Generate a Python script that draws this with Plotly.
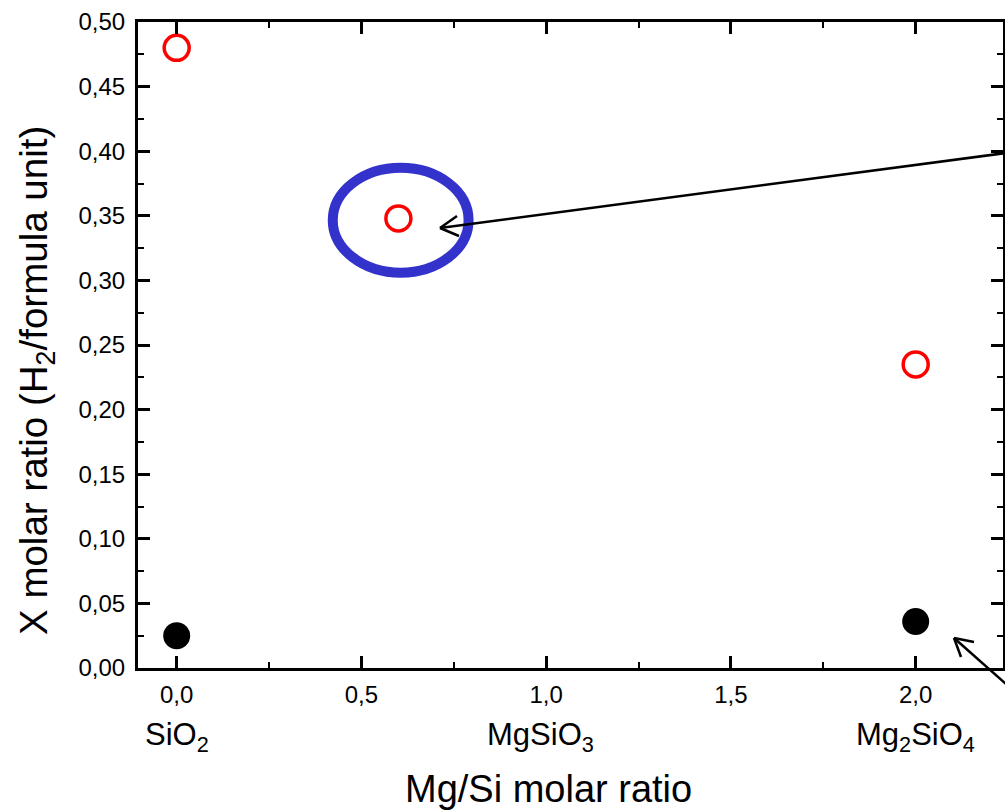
import plotly.graph_objects as go

# ---- data ----
h2_x = [0.0, 0.6, 2.0]            # Mg/Si molar ratio, red open circles
h2_y = [0.480, 0.348, 0.235]
low_x = [0.0, 2.0]                # black filled circles
low_y = [0.025, 0.036]
compound_x = [0.0, 1.0, 2.0]
compound_labels = ["SiO<sub>2</sub>", "MgSiO<sub>3</sub>", "Mg<sub>2</sub>SiO<sub>4</sub>"]
x_title = "Mg/Si molar ratio"
y_title = "X molar ratio (H<sub>2</sub>/formula unit)"

# ---- layout geometry ----
FW, FH = 1005, 811
L, T, R, B = 138, 22, 2, 143
W, H = FW - L - R, FH - T - B
X_RANGE = [-0.1047, 2.2363]
Y_RANGE = [0.0, 0.5]
FONT = "Liberation Sans, Arial, sans-serif"


def px_to_paper(px, py):
    return (px - L) / W, (FH - B - py) / H


fig = go.Figure()
fig.add_trace(go.Scatter(
    x=h2_x, y=h2_y, mode="markers",
    marker=dict(symbol="circle-open", size=25, color="#FF0000",
                line=dict(width=3.5, color="#FF0000")),
    showlegend=False, cliponaxis=False))
fig.add_trace(go.Scatter(
    x=low_x, y=low_y, mode="markers",
    marker=dict(symbol="circle", size=27, color="#000000", line=dict(width=0)),
    showlegend=False, cliponaxis=False))

axis_common = dict(
    showline=True, linecolor="black", linewidth=3, mirror="ticks",
    ticks="inside", ticklen=12, tickwidth=2.5, tickcolor="black",
    showgrid=False, zeroline=False, automargin=False,
    tickfont=dict(family=FONT, size=24, color="black"),
)
fig.update_xaxes(range=X_RANGE, dtick=0.5, tick0=0, tickformat=".1f",
                 ticklabelstandoff=3,
                 minor=dict(dtick=0.25, tick0=0, ticks="inside", ticklen=6,
                            tickwidth=2, tickcolor="black"),
                 **axis_common)
fig.update_yaxes(range=Y_RANGE, dtick=0.05, tick0=0, tickformat=".2f",
                 ticklabelstandoff=5,
                 minor=dict(dtick=0.025, tick0=0, ticks="inside", ticklen=6,
                            tickwidth=2, tickcolor="black"),
                 **axis_common)

annotations = []
# compound labels under the x axis
label_shift = [0, -6, 0]
for cx, lab, sh in zip(compound_x, compound_labels, label_shift):
    annotations.append(dict(x=cx, xref="x", y=px_to_paper(0, 737)[1], yref="paper",
                            text=lab, showarrow=False, xanchor="center", yanchor="middle",
                            xshift=sh,
                            font=dict(family=FONT, size=31, color="black")))
# axis titles
tx, ty = px_to_paper(548, 789)
annotations.append(dict(x=tx, y=ty, xref="paper", yref="paper", text=x_title,
                        showarrow=False, xanchor="center", yanchor="middle",
                        font=dict(family=FONT, size=38, color="black")))
tx, ty = px_to_paper(36, 381)
annotations.append(dict(x=tx, y=ty, xref="paper", yref="paper", text=y_title,
                        showarrow=False, xanchor="center", yanchor="middle", textangle=-90,
                        font=dict(family=FONT, size=38.5, color="black")))

shapes = []
# blue ellipse around the highlighted point
shapes.append(dict(type="circle", xref="x", yref="y",
                   x0=0.4224, x1=0.790, y0=0.306, y1=0.3872,
                   line=dict(color="#3333CC", width=10)))


def arrow(tail, tip, arms):
    out = []
    x0, y0 = px_to_paper(*tail)
    x1, y1 = px_to_paper(*tip)
    out.append(dict(type="line", xref="paper", yref="paper", x0=x0, y0=y0, x1=x1, y1=y1,
                    line=dict(color="black", width=2.5)))
    for a in arms:
        ax, ay = px_to_paper(*a)
        out.append(dict(type="line", xref="paper", yref="paper", x0=x1, y0=y1, x1=ax, y1=ay,
                        line=dict(color="black", width=2.5)))
    return out


shapes += arrow((1006, 153), (440, 228), [(457, 216), (459, 236)])
shapes += arrow((1006, 684), (954, 638), [(974, 642), (961, 657)])

fig.update_layout(
    width=FW, height=FH,
    margin=dict(l=L, r=R, t=T, b=B, pad=0),
    paper_bgcolor="white", plot_bgcolor="white",
    separators=", ",
    annotations=annotations, shapes=shapes,
    font=dict(family=FONT, color="black"),
)

fig.write_html("out.html", config={"displayModeBar": False},
               post_script="document.body.style.margin='0';document.body.style.overflow='hidden';")
